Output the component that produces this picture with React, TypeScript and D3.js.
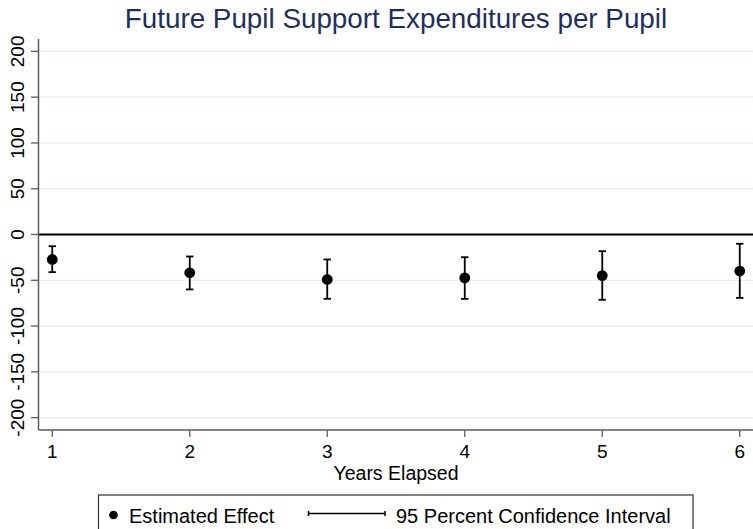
import React from "react";
import * as d3 from "d3";

// Estimated effect of the program on future pupil support spending, by years elapsed
const years = [1, 2, 3, 4, 5, 6];
const estimate = [-27.3, -41.8, -49.1, -47.3, -44.9, -39.9];
const ciLow = [-41.1, -60.0, -70.2, -70.3, -71.3, -69.2];
const ciHigh = [-12.8, -24.0, -27.3, -24.8, -18.2, -10.1];
const yTicks = [-200, -150, -100, -50, 0, 50, 100, 150, 200];

const W = 753;
const H = 529;
const FONT = "'Liberation Sans', Arial, Helvetica, sans-serif";

export default function App() {
  const x = d3.scaleLinear().domain([0.9, 6.1]).range([38.5, 753.5]);
  const y = d3.scaleLinear().domain([-213.5, 213.5]).range([430, 39]);
  const [x0, x1] = x.range();
  const [yb, yt] = y.range();
  const xMid = (x0 + x1) / 2;

  const cap = 3.7;

  return (
    <svg
      width={W}
      height={H}
      viewBox={`0 0 ${W} ${H}`}
      style={{ position: "absolute", left: 0, top: 0, background: "#fff" }}
      fontFamily={FONT}
    >
      <rect width={W} height={H} fill="#fff" />

      {/* title */}
      <text x={xMid} y={28} textAnchor="middle" fontSize={27.8} fill="#1f2e5c">
        Future Pupil Support Expenditures per Pupil
      </text>

      {/* horizontal grid */}
      {yTicks.map((t) => (
        <line
          key={`g${t}`}
          x1={x0 + 1}
          x2={x1}
          y1={y(t)}
          y2={y(t)}
          stroke="#e7eef1"
          strokeWidth={1.3}
        />
      ))}

      {/* reference line at zero */}
      <line x1={x0} x2={x1} y1={y(0)} y2={y(0)} stroke="#000" strokeWidth={1.8} />

      {/* y axis */}
      <line x1={x0} x2={x0} y1={yt} y2={yb} stroke="#5c5c5c" strokeWidth={1.5} />
      {yTicks.map((t) => (
        <g key={`yt${t}`}>
          <line x1={x0 - 7.5} x2={x0} y1={y(t)} y2={y(t)} stroke="#5c5c5c" strokeWidth={1.3} />
          <text
            transform={`translate(24,${y(t)}) rotate(-90)`}
            textAnchor="middle"
            fontSize={19}
            fill="#000"
          >
            {t}
          </text>
        </g>
      ))}

      {/* x axis */}
      <line x1={x0} x2={x1} y1={yb} y2={yb} stroke="#5c5c5c" strokeWidth={1.5} />
      {years.map((v) => (
        <g key={`xt${v}`}>
          <line x1={x(v)} x2={x(v)} y1={yb} y2={yb + 7} stroke="#5c5c5c" strokeWidth={1.3} />
          <text x={x(v)} y={457.5} textAnchor="middle" fontSize={19} fill="#000">
            {v}
          </text>
        </g>
      ))}
      <text x={xMid} y={480} textAnchor="middle" fontSize={19.5} fill="#000">
        Years Elapsed
      </text>

      {/* confidence intervals */}
      {years.map((v, i) => (
        <g key={`ci${v}`} stroke="#000" strokeWidth={1.8}>
          <line x1={x(v)} x2={x(v)} y1={y(ciLow[i])} y2={y(ciHigh[i])} />
          <line x1={x(v) - cap} x2={x(v) + cap} y1={y(ciLow[i])} y2={y(ciLow[i])} />
          <line x1={x(v) - cap} x2={x(v) + cap} y1={y(ciHigh[i])} y2={y(ciHigh[i])} />
        </g>
      ))}

      {/* point estimates */}
      {years.map((v, i) => (
        <circle key={`pt${v}`} cx={x(v)} cy={y(estimate[i])} r={5.4} fill="#000" />
      ))}

      {/* legend */}
      <rect x={98.5} y={495} width={594.5} height={60} fill="#fff" stroke="#333" strokeWidth={1.2} />
      <circle cx={113.5} cy={515} r={4.3} fill="#000" />
      <text x={129} y={522.5} fontSize={20} fill="#000">
        Estimated Effect
      </text>
      <g stroke="#000" strokeWidth={1.5}>
        <line x1={308.5} x2={385} y1={513.5} y2={513.5} />
        <line x1={308.5} x2={308.5} y1={511} y2={516} />
        <line x1={385} x2={385} y1={511} y2={516} />
      </g>
      <text x={396} y={522.5} fontSize={20} fill="#000">
        95 Percent Confidence Interval
      </text>
    </svg>
  );
}
